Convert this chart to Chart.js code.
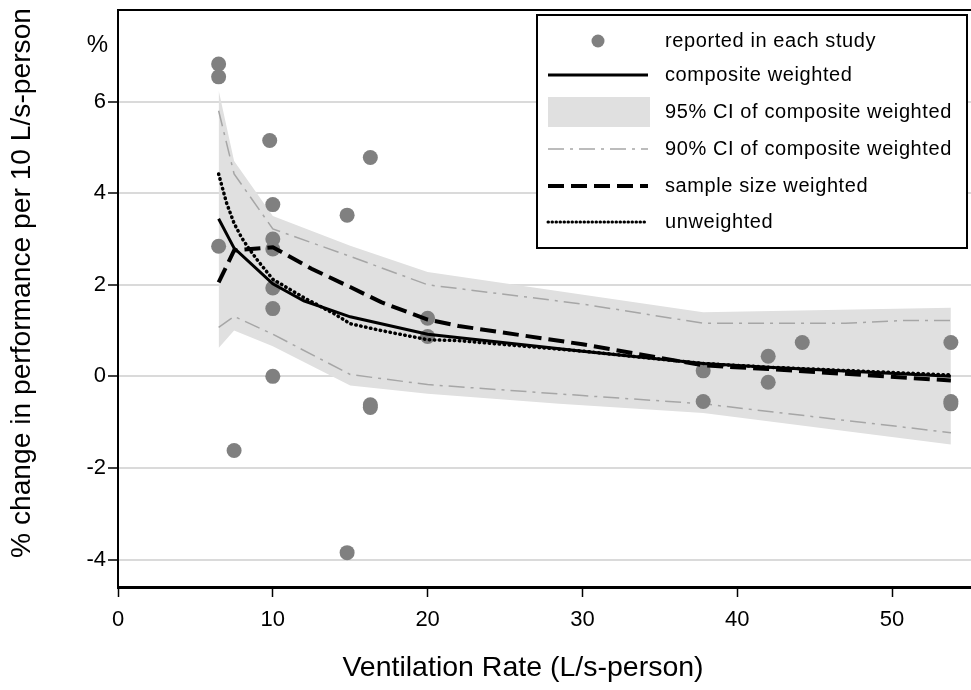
<!DOCTYPE html>
<html>
<head>
<meta charset="utf-8">
<script src="https://cdn.jsdelivr.net/npm/chart.js@4"></script>
<style>
    body { margin: 0; background: #fff; }
    canvas { display: block; }
</style>
</head>
<body>
<canvas id="chart" width="971" height="690"></canvas>
<script>
// datos
const studyX = [6.5, 6.5, 6.5, 7.5, 9.8, 10, 10, 10, 10, 10, 10, 14.8, 14.8, 16.3, 16.3, 16.3, 20, 20, 37.8, 37.8, 42, 42, 44.2, 53.8, 53.8, 53.8];
const studyY = [6.82, 6.54, 2.84, -1.62, 5.15, 3.75, 3.0, 2.78, 1.93, 1.48, 0.0, 3.52, -3.85, 4.78, -0.62, -0.68, 1.27, 0.87, 0.12, -0.55, 0.44, -0.13, 0.74, 0.74, -0.55, -0.6];

const ci95X = [6.5, 7.5, 10, 15, 20, 28.5, 37.8, 53.8];
const ci95Upper = [6.25, 4.7, 3.5, 2.85, 2.28, 1.86, 1.4, 1.5];
const ci95Lower = [0.62, 1.0, 0.66, -0.2, -0.38, -0.6, -0.8, -1.49];

const ci90UpperX = [6.5, 7.5, 10, 15, 20, 30, 37.8, 47, 50.7, 53.8];
const ci90Upper = [5.8, 4.42, 3.22, 2.62, 2.0, 1.58, 1.16, 1.16, 1.22, 1.22];
const ci90LowerX = [6.5, 7.5, 10, 15, 20, 30, 37.8, 53.8];
const ci90Lower = [1.07, 1.31, 0.92, 0.04, -0.18, -0.42, -0.6, -1.23];

const compositeX = [6.5, 7.5, 10, 12, 15, 20, 30, 37.8, 42, 53.8];
const compositeY = [3.44, 2.8, 2.02, 1.65, 1.3, 0.92, 0.55, 0.28, 0.2, 0.0];

const sampleX = [6.5, 7.5, 10, 12.5, 15, 17, 20, 22, 30, 37.8, 42, 53.8];
const sampleY = [2.05, 2.75, 2.82, 2.35, 1.95, 1.62, 1.24, 1.1, 0.7, 0.24, 0.16, -0.09];

const unweightedX = [6.5, 7, 7.5, 8, 8.5, 9, 10, 12, 14, 15, 17, 20, 22, 30, 37.8, 42, 53.8];
const unweightedY = [4.42, 3.8, 3.34, 3.02, 2.77, 2.54, 2.12, 1.72, 1.36, 1.15, 1.0, 0.8, 0.78, 0.55, 0.28, 0.2, 0.03];

const xTicks = [0, 10, 20, 30, 40, 50];
const yTicks = [-4, -2, 0, 2, 4, 6];

const legendLabels = ['reported in each study', 'composite weighted', '95% CI of composite weighted',
    '90% CI of composite weighted', 'sample size weighted', 'unweighted'];
const xTitle = 'Ventilation Rate (L/s-person)';
const yTitle = '% change in performance per 10 L/s-person';

const FONT = '"Liberation Sans", Arial, sans-serif';
const GRAY_PT = '#808080';
const BAND = '#e0e0e0';
const CI90 = '#a6a6a6';
const DASH_90 = [16, 6, 3, 6];
const DASH_SAMPLE = [16, 7];
const DASH_DOT = [0.5, 4.5];

function toPoints(xs, ys) {
    return xs.map(function (x, i) { return { x: x, y: ys[i] }; });
}

// order: el numero mas bajo se dibuja arriba
function lineSet(xs, ys, color, width, dash, order, extra) {
    var ds = {
        data: toPoints(xs, ys),
        borderColor: color,
        borderWidth: width,
        borderDash: dash,
        pointRadius: 0,
        fill: false,
        tension: 0,
        order: order
    };
    return Object.assign(ds, extra || {});
}

// marco superior, titulos y leyenda
const frameAndLegend = {
    id: 'frameAndLegend',
    afterDraw: function (chart) {
        var ctx = chart.ctx;
        var area = chart.chartArea;
        ctx.save();
        ctx.strokeStyle = '#000';
        ctx.lineWidth = 2;
        ctx.beginPath();
        ctx.moveTo(area.left, area.top);
        ctx.lineTo(area.right, area.top);
        ctx.stroke();

        ctx.fillStyle = '#000';
        ctx.font = '24px ' + FONT;
        ctx.textAlign = 'right';
        ctx.textBaseline = 'middle';
        ctx.fillText('%', 108, 45);

        // titulos de ejes
        ctx.font = '28.5px ' + FONT;
        ctx.textAlign = 'center';
        ctx.fillText(xTitle, 523, 668);
        ctx.save();
        ctx.translate(22, 283);
        ctx.rotate(-Math.PI / 2);
        ctx.font = '28.2px ' + FONT;
        ctx.fillText(yTitle, 0, 0);
        ctx.restore();

        // caja de leyenda
        var bx = 537, by = 15, bw = 430, bh = 233;
        ctx.fillStyle = '#fff';
        ctx.fillRect(bx, by, bw, bh);
        ctx.lineWidth = 2;
        ctx.strokeRect(bx, by, bw, bh);

        var x0 = 548, x1 = 648, tx = 665;
        var rows = [41, 75, 112, 149, 186, 222];

        ctx.fillStyle = GRAY_PT;
        ctx.beginPath();
        ctx.arc(598, rows[0], 6.5, 0, Math.PI * 2);
        ctx.fill();

        ctx.strokeStyle = '#000';
        ctx.lineWidth = 3;
        ctx.setLineDash([]);
        ctx.beginPath(); ctx.moveTo(x0, rows[1]); ctx.lineTo(x1, rows[1]); ctx.stroke();

        ctx.fillStyle = BAND;
        ctx.fillRect(x0, rows[2] - 15, x1 - x0 + 2, 30);

        ctx.strokeStyle = CI90;
        ctx.lineWidth = 1.5;
        ctx.setLineDash(DASH_90);
        ctx.beginPath(); ctx.moveTo(x0, rows[3]); ctx.lineTo(x1, rows[3]); ctx.stroke();

        ctx.strokeStyle = '#000';
        ctx.lineWidth = 4;
        ctx.setLineDash(DASH_SAMPLE);
        ctx.beginPath(); ctx.moveTo(x0, rows[4]); ctx.lineTo(x1, rows[4]); ctx.stroke();

        ctx.lineWidth = 3;
        ctx.lineCap = 'round';
        ctx.setLineDash([0.5, 3.5]);
        ctx.beginPath(); ctx.moveTo(x0, rows[5]); ctx.lineTo(x1, rows[5]); ctx.stroke();
        ctx.setLineDash([]);
        ctx.lineCap = 'butt';

        ctx.fillStyle = '#000';
        ctx.font = '20px ' + FONT;
        ctx.letterSpacing = '0.6px';
        ctx.textAlign = 'left';
        ctx.textBaseline = 'middle';
        legendLabels.forEach(function (label, i) {
            ctx.fillText(label, tx, rows[i]);
        });
        ctx.letterSpacing = '0px';
        ctx.restore();
    }
};

var ctx = document.getElementById('chart').getContext('2d');
var chart = new Chart(ctx, {
    type: 'line',
    data: {
        datasets: [
            lineSet(ci95X, ci95Upper, 'rgba(0,0,0,0)', 0, [], 20, { fill: '+1', backgroundColor: BAND }),
            lineSet(ci95X, ci95Lower, 'rgba(0,0,0,0)', 0, [], 19),
            lineSet(ci90UpperX, ci90Upper, CI90, 1.5, DASH_90, 10),
            lineSet(ci90LowerX, ci90Lower, CI90, 1.5, DASH_90, 9),
            {
                data: toPoints(studyX, studyY),
                showLine: false,
                pointRadius: 7.5,
                pointBackgroundColor: GRAY_PT,
                pointBorderWidth: 0,
                order: 5
            },
            lineSet(compositeX, compositeY, '#000', 3, [], 3),
            lineSet(sampleX, sampleY, '#000', 4, DASH_SAMPLE, 2),
            lineSet(unweightedX, unweightedY, '#000', 3.5, DASH_DOT, 1, { borderCapStyle: 'round' })
        ]
    },
    options: {
        responsive: false,
        animation: false,
        layout: { autoPadding: false, padding: { top: 10, right: 0, left: 0, bottom: 0 } },
        plugins: {
            legend: { display: false },
            tooltip: { enabled: false }
        },
        scales: {
            x: {
                type: 'linear',
                min: 0,
                max: 55.1,
                afterBuildTicks: function (axis) {
                    axis.ticks = xTicks.map(function (v) { return { value: v }; });
                },
                afterFit: function (axis) {
                    axis.height = 103;
                    axis.paddingLeft = 0;
                    axis.paddingRight = 0;
                },
                grid: { drawOnChartArea: false, tickLength: 10, tickColor: '#000', tickWidth: 1.5 },
                border: { display: true, color: '#000', width: 3 },
                ticks: { color: '#000', font: { family: FONT, size: 22 }, padding: 10, maxRotation: 0 }
            },
            y: {
                min: -4.6,
                max: 8,
                afterBuildTicks: function (axis) {
                    axis.ticks = yTicks.map(function (v) { return { value: v }; });
                },
                afterFit: function (axis) {
                    axis.width = 118;
                    axis.paddingTop = 0;
                    axis.paddingBottom = 0;
                },
                grid: { color: '#dadada', lineWidth: 2, tickLength: 10, tickColor: '#000', tickWidth: 1.5 },
                border: { display: true, color: '#000', width: 2 },
                ticks: { color: '#000', font: { family: FONT, size: 22 }, padding: 2 }
            }
        }
    },
    plugins: [frameAndLegend]
});
</script>
</body>
</html>
